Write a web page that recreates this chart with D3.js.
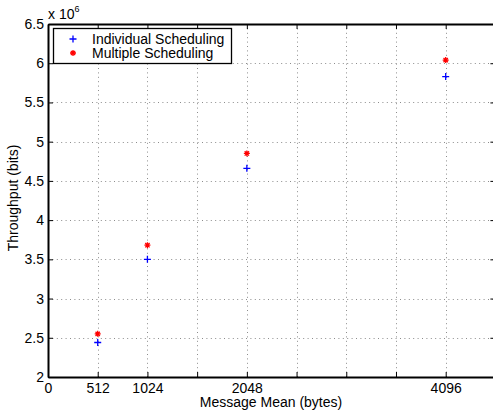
<!DOCTYPE html>
<html>
<head>
<meta charset="utf-8">
<script src="https://cdn.jsdelivr.net/npm/d3@7"></script>
<style>
  html, body { margin: 0; padding: 0; background: #fff; }
  svg { display: block; font-family: "Liberation Sans", Arial, Helvetica, sans-serif; }
</style>
</head>
<body>
<svg id="chart" width="493" height="414"></svg>
<script>
// Message sizes (bytes) and measured throughput (x 10^6 bits)
const messageMean = [512, 1024, 2048, 4096];
const individualThroughput = [2.44, 3.50, 4.66, 5.83];
const multipleThroughput = [2.55, 3.68, 4.85, 6.04];

const xTicks = [0, 512, 1024, 1536, 2048, 2560, 3072, 3584, 4096, 4608];
const xTickLabels = ["0", "512", "1024", "", "2048", "", "", "", "4096", ""];
const yTicks = [2, 2.5, 3, 3.5, 4, 4.5, 5, 5.5, 6, 6.5];
const yTickLabels = ["2", "2.5", "3", "3.5", "4", "4.5", "5", "5.5", "6", "6.5"];

const seriesNames = ["Individual Scheduling", "Multiple Scheduling"];
const seriesColors = ["#0000ff", "#ff0000"];

const svg = d3.select("#chart");
const plotLeft = 48, plotRight = 495.4, plotTop = 24, plotBottom = 377;
const fontSize = 14;

const x = d3.scaleLinear().domain([0, 4608]).range([plotLeft, plotRight]);
const y = d3.scaleLinear().domain([2, 6.5]).range([plotBottom, plotTop]);

// dotted grid
const grid = svg.append("g").attr("stroke", "#8c8c8c").attr("stroke-width", 1)
  .attr("stroke-dasharray", "1,3.4");
grid.selectAll("line.gx").data(xTicks.slice(1)).join("line")
  .attr("x1", d => Math.round(x(d)) + 0.5).attr("x2", d => Math.round(x(d)) + 0.5)
  .attr("y1", plotTop).attr("y2", plotBottom);
grid.selectAll("line.gy").data(yTicks.slice(1)).join("line")
  .attr("y1", d => Math.round(y(d)) + 0.5).attr("y2", d => Math.round(y(d)) + 0.5)
  .attr("x1", plotLeft).attr("x2", plotRight);

// axes with inward ticks on all four sides
const fmtX = (d, i) => xTickLabels[i];
const fmtY = (d, i) => yTickLabels[i];
const axB = svg.append("g").attr("transform", `translate(0,${plotBottom})`)
  .call(d3.axisBottom(x).tickValues(xTicks).tickFormat(fmtX).tickSizeInner(-5).tickSizeOuter(0).tickPadding(6));
const axL = svg.append("g").attr("transform", `translate(${plotLeft},0)`)
  .call(d3.axisLeft(y).tickValues(yTicks).tickFormat(fmtY).tickSizeInner(-5).tickSizeOuter(0).tickPadding(4));
const axT = svg.append("g").attr("transform", `translate(0,${plotTop})`)
  .call(d3.axisTop(x).tickValues(xTicks).tickFormat("").tickSizeInner(-5).tickSizeOuter(0));
const axR = svg.append("g").attr("transform", `translate(${plotRight},0)`)
  .call(d3.axisRight(y).tickValues(yTicks).tickFormat("").tickSizeInner(-5).tickSizeOuter(0));

[axB, axL, axT, axR].forEach(a => {
  a.select(".domain").attr("stroke", "#000").attr("stroke-width", 2);
  a.selectAll(".tick line").attr("stroke", "#000").attr("stroke-width", 1);
  a.selectAll(".tick text").attr("font-size", fontSize).attr("fill", "#000")
    .attr("font-family", "'Liberation Sans', Arial, sans-serif");
});

// exponent label
const expo = svg.append("text").attr("x", 48).attr("y", 19).attr("font-size", fontSize);
expo.append("tspan").text("x 10");
expo.append("tspan").attr("font-size", 9).attr("dy", -7).text("6");

// axis titles
svg.append("text").attr("x", 271).attr("y", 407).attr("text-anchor", "middle")
  .attr("font-size", fontSize).text("Message Mean (bytes)");
svg.append("text").attr("transform", `translate(18,198) rotate(-90)`)
  .attr("text-anchor", "middle").attr("font-size", fontSize).text("Throughput (bits)");

// markers
function plus(g, cx, cy, s, color) {
  g.append("path").attr("d", `M${cx - s},${cy}H${cx + s}M${cx},${cy - s}V${cy + s}`)
    .attr("stroke", color).attr("stroke-width", 1.3).attr("fill", "none");
}
function star(g, cx, cy, s, color) {
  const d = s * 0.72;
  g.append("path").attr("d",
    `M${cx - s},${cy}H${cx + s}M${cx},${cy - s}V${cy + s}` +
    `M${cx - d},${cy - d}L${cx + d},${cy + d}M${cx - d},${cy + d}L${cx + d},${cy - d}`)
    .attr("stroke", color).attr("stroke-width", 1.3).attr("fill", "none");
}

const marks = svg.append("g");
messageMean.forEach((m, i) => {
  plus(marks, x(m), y(individualThroughput[i]), 3.5, seriesColors[0]);
  star(marks, x(m), y(multipleThroughput[i]), 3, seriesColors[1]);
});

// legend
const lg = svg.append("g");
lg.append("rect").attr("x", 53.5).attr("y", 28.5).attr("width", 178).attr("height", 35)
  .attr("fill", "#fff").attr("stroke", "#000").attr("stroke-width", 1.3);
seriesNames.forEach((name, i) => {
  const cy = 39 + i * 14;
  if (i === 0) plus(lg, 73, cy, 3.5, seriesColors[0]); else star(lg, 73, cy, 3, seriesColors[1]);
  lg.append("text").attr("x", 92).attr("y", cy + 5).attr("font-size", fontSize).text(name);
});
</script>
</body>
</html>
